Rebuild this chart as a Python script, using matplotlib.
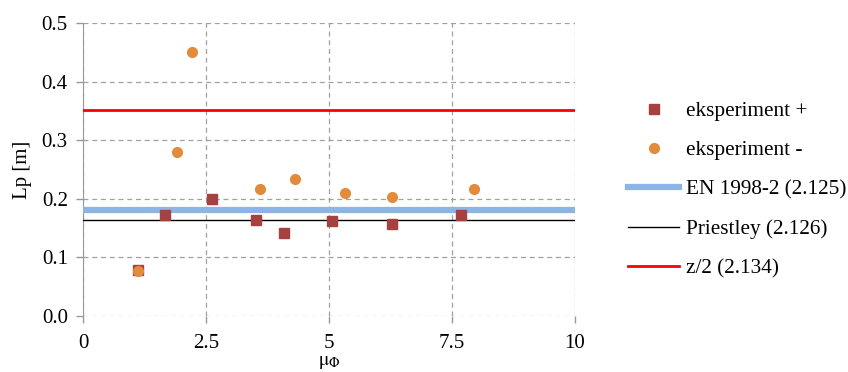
"""Plastic hinge length Lp versus curvature ductility."""
import matplotlib.pyplot as plt

plt.rcParams["font.family"] = ["Liberation Serif", "DejaVu Serif"]
plt.rcParams["mathtext.fontset"] = "stix"

# measured points
mu_plus = [1.12, 1.67, 2.63, 3.52, 4.09, 5.07, 6.28, 7.69]
lp_plus = [0.079, 0.172, 0.200, 0.164, 0.141, 0.162, 0.157, 0.172]
mu_minus = [1.12, 1.91, 2.22, 3.60, 4.30, 5.32, 6.28, 7.95]
lp_minus = [0.076, 0.279, 0.450, 0.216, 0.233, 0.209, 0.203, 0.216]

# code / formula values (constant lines)
line_x = [0, 10]
lp_en = 0.181
lp_priestley = 0.164
lp_half_z = 0.352

fig = plt.figure(figsize=(8.48, 3.72), dpi=100)
ax = fig.add_axes([0.098, 0.151, 0.580, 0.787])

ax.plot(mu_plus, lp_plus, "s", color="#A5423F", markersize=7, label="eksperiment +", zorder=4)
ax.plot(mu_minus, lp_minus, "o", color="#E38B3D", markersize=7, label="eksperiment -", zorder=4)
ax.plot(line_x, [lp_en] * 2, color="#8DB5E3", lw=4.5, label="EN 1998-2 (2.125)", zorder=3)
ax.plot(line_x, [lp_priestley] * 2, color="black", lw=1, label="Priestley (2.126)", zorder=3)
ax.plot(line_x, [lp_half_z] * 2, color="#FF0000", lw=2, label="z/2 (2.134)", zorder=3)

ax.set_xlim(0, 10)
ax.set_ylim(0, 0.5)
ax.set_xticks([0, 2.5, 5, 7.5, 10])
ax.set_xticklabels(["0", "2.5", "5", "7.5", "10"])
ax.set_yticks([0, 0.1, 0.2, 0.3, 0.4, 0.5])
ax.set_yticklabels(["0.0", "0.1", "0.2", "0.3", "0.4", "0.5"])
ax.tick_params(labelsize=15, color="#999999", length=5, width=1)
ax.tick_params(axis="x", pad=8)
ax.tick_params(axis="y", pad=6)

ax.grid(True, linestyle=(0, (4, 3)), color="#A0A0A0", lw=0.9)
for side in ["top", "right", "bottom"]:
    ax.spines[side].set_visible(False)
ax.spines["left"].set_color("#999999")

ax.set_ylabel("Lp [m]", fontsize=15, labelpad=7)
ax.set_xlabel(r"$\mathrm{μ}_{\mathrm{Φ}}$", fontsize=14, labelpad=1)

ax.legend(loc="center left", bbox_to_anchor=(1.07, 0.43), frameon=False,
          fontsize=15.3, labelspacing=0.92, handlelength=2.4, handletextpad=0.3)

fig.savefig("out.png", dpi=100)
